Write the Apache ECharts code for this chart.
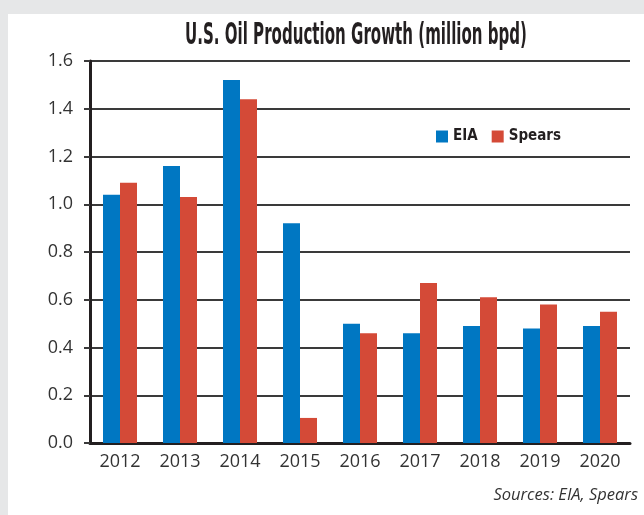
<!DOCTYPE html>
<html>
<head>
<meta charset="utf-8">
<script src="https://cdn.jsdelivr.net/npm/echarts@6/dist/echarts.min.js"></script>
<style>
  html, body { margin: 0; padding: 0; background: #e6e7e8; }
  #panel { position: absolute; left: 8px; top: 14px; width: 636px; height: 501px; background: #ffffff; }
  #chart { position: absolute; left: 0; top: 0; width: 644px; height: 515px; }
</style>
</head>
<body>
<div id="panel"></div>
<div id="chart"></div>
<script>
const categories = ['2012', '2013', '2014', '2015', '2016', '2017', '2018', '2019', '2020'];
const eiaValues = [1.04, 1.16, 1.52, 0.92, 0.50, 0.46, 0.49, 0.48, 0.49];
const spearsValues = [1.09, 1.03, 1.44, 0.105, 0.46, 0.67, 0.61, 0.58, 0.55];
const yTicks = { min: 0, max: 1.6, interval: 0.2 };
const titleText = 'U.S. Oil Production Growth (million bpd)';
const sourceText = 'Sources: EIA, Spears';

const titleFont = 'bold 30px "Liberation Sans Narrow", "DejaVu Sans Condensed", sans-serif';
const ctx = document.createElement('canvas').getContext('2d');
ctx.font = titleFont;
const titleW = ctx.measureText(titleText).width;
const titleScale = 342 / titleW;

const chart = echarts.init(document.getElementById('chart'), null, { renderer: 'canvas' });
chart.setOption({
  backgroundColor: 'transparent',
  animation: false,
  grid: { left: 90, right: 14, top: 61, bottom: 72, containLabel: false },
  legend: {
    left: 431, top: 124,
    icon: 'rect', itemWidth: 12, itemHeight: 12, itemGap: 14,
    textStyle: { fontFamily: '"Liberation Sans Narrow", "DejaVu Sans Condensed", sans-serif', fontWeight: 'bold', fontSize: 15, color: '#231f20' },
    data: ['EIA', 'Spears']
  },
  xAxis: {
    type: 'category',
    data: categories,
    axisLine: { show: true, lineStyle: { color: '#231f20', width: 3 } },
    axisTick: { show: false },
    axisLabel: { margin: 10, fontFamily: '"Open Sans", sans-serif', fontSize: 18, color: '#333333' }
  },
  yAxis: {
    type: 'value',
    min: yTicks.min, max: yTicks.max, interval: yTicks.interval,
    axisLine: { show: true, lineStyle: { color: '#231f20', width: 3 } },
    axisTick: { show: true, length: 6, lineStyle: { color: '#3a3a3a', width: 2 } },
    splitLine: { show: true, lineStyle: { color: '#3a3a3a', width: 2 } },
    axisLabel: {
      margin: 17, fontFamily: '"Open Sans", sans-serif', fontSize: 18, color: '#333333',
      formatter: v => v.toFixed(1)
    }
  },
  series: [
    { name: 'EIA', type: 'bar', data: eiaValues, barWidth: 17, barGap: '0%', itemStyle: { color: '#0077c2' } },
    { name: 'Spears', type: 'bar', data: spearsValues, barWidth: 17, barGap: '0%', itemStyle: { color: '#d44a37' } }
  ],
  graphic: [
    {
      type: 'text', x: 356, y: 36, scaleX: titleScale, scaleY: 1,
      style: { text: titleText, font: titleFont, fill: '#231f20', align: 'center', verticalAlign: 'middle' }
    },
    {
      type: 'text', x: 638, y: 495,
      style: { text: sourceText, font: 'italic 16.5px "Open Sans", sans-serif', fill: '#333333', align: 'right', verticalAlign: 'middle' }
    }
  ]
});
</script>
</body>
</html>
